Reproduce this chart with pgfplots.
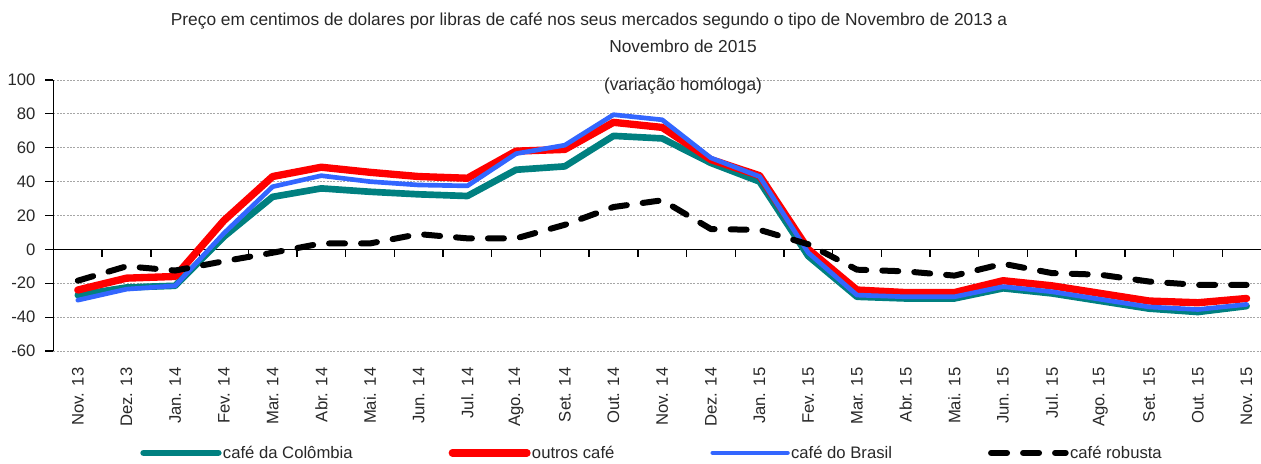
\documentclass[border=0pt]{standalone}
\usepackage{fontspec}
\setmainfont{Liberation Sans}
\usepackage{pgfplots}
\pgfplotsset{compat=1.18}
\definecolor{cteal}{RGB}{0,128,128}
\definecolor{cred}{RGB}{255,0,0}
\definecolor{cblue}{RGB}{51,102,255}
\definecolor{txt}{RGB}{40,40,40}
\begin{document}
\begin{tikzpicture}
\begin{axis}[
  at={(0,0)}, anchor=south west,
  scale only axis, width=905.7pt, height=203.25pt,
  xmin=-0.5, xmax=24.296, ymin=-60, ymax=100,
  ytick={-60,-40,...,100},
  axis y line*=left, axis x line*=bottom,
  x axis line style={draw=none},
  xtick={0,...,24},
  xtick style={draw=none},
  xticklabels={Nov. 13,Dez. 13,Jan. 14,Fev. 14,Mar. 14,Abr. 14,Mai. 14,Jun. 14,Jul. 14,Ago. 14,Set. 14,Out. 14,Nov. 14,Dez. 14,Jan. 15,Fev. 15,Mar. 15,Abr. 15,Mai. 15,Jun. 15,Jul. 15,Ago. 15,Set. 15,Out. 15,Nov. 15},
  xticklabel style={rotate=90, anchor=east, xshift=-9pt, font=\fontsize{12.5}{14}\selectfont, text=txt},
  yticklabel style={xshift=-4pt, font=\fontsize{12.5}{14}\selectfont, text=txt},
  /pgf/number format/assume math mode=true,
  ytick align=outside, major tick length=6pt,
  ytick style={black, line width=0.8pt},
  y axis line style={black, line width=0.8pt},
  ymajorgrids, grid style={gray!70, dash pattern=on 1.5pt off 1pt, line width=0.6pt},
  clip=false,
  legend columns=4,
  legend cell align=left,
  legend style={draw=none, fill=none, at={(0.0717,-0.376)}, anchor=west, inner sep=0pt,
    font=\fontsize{12.5}{14}\selectfont, text=txt,
    /tikz/every even column/.append style={column sep=71pt},
    nodes={inner xsep=1pt}},
  legend image code/.code={\draw[#1] (0pt,0pt) -- (56pt,0pt);},
]
\draw[black, line width=1pt] (axis cs:-0.5,0) -- (axis cs:24.296,0);
\pgfplotsinvokeforeach{0,...,23}{\draw[black, line width=1pt] (axis cs:#1+0.5,0) -- ++(0pt,-6pt);}
\addplot[cteal, line width=5pt, line join=round, line cap=round] coordinates {
(0,-27) (1,-22.5) (2,-21.5) (3,7.5) (4,31) (5,36) (6,34) (7,32.5) (8,31.5) (9,47) (10,49) (11,67) (12,65.5) (13,51) (14,40) (15,-4) (16,-28) (17,-29) (18,-29) (19,-23) (20,-26) (21,-30.5) (22,-35) (23,-37) (24,-33.5)};
\addlegendentry{café da Colômbia}
\addplot[cred, line width=5.5pt, line join=round, line cap=round] coordinates {
(0,-24) (1,-17) (2,-16) (3,17) (4,43) (5,48.5) (6,45.5) (7,43) (8,42) (9,58) (10,59) (11,75) (12,72) (13,53) (14,43.5) (15,0) (16,-24) (17,-25.5) (18,-25.5) (19,-18.5) (20,-21.5) (21,-26) (22,-30.5) (23,-31.5) (24,-29)};
\addlegendentry{outros café}
\addplot[cblue, line width=3.5pt, line join=round, line cap=round] coordinates {
(0,-30) (1,-23.5) (2,-21.5) (3,9.5) (4,37) (5,43.5) (6,40) (7,38) (8,37.5) (9,56.5) (10,61.5) (11,79.5) (12,76.5) (13,54) (14,43) (15,-2) (16,-27) (17,-28) (18,-28) (19,-22) (20,-25) (21,-29.5) (22,-34) (23,-35.5) (24,-32.5)};
\addlegendentry{café do Brasil}
\addplot[black, line width=4.5pt, line join=round, line cap=round, dash pattern=on 12pt off 12pt] coordinates {
(0,-18.5) (1,-10) (2,-12.5) (3,-7) (4,-2) (5,3.5) (6,3.5) (7,9) (8,6.5) (9,6.5) (10,14.5) (11,25) (12,29) (13,12) (14,11.5) (15,3) (16,-12) (17,-13) (18,-15.5) (19,-8.5) (20,-14) (21,-15) (22,-19) (23,-21) (24,-21)};
\addlegendentry{café robusta}
\end{axis}
\node[font=\fontsize{13}{15}\selectfont, text=txt, inner sep=0pt] at (401.7pt,247.5pt) {Preço em centimos de dolares por libras de café nos seus mercados segundo o tipo de Novembro de 2013 a};
\node[font=\fontsize{13}{15}\selectfont, text=txt, inner sep=0pt] at (472.2pt,228.75pt) {Novembro de 2015};
\node[font=\fontsize{13}{15}\selectfont, text=txt, inner sep=0pt] at (472.2pt,198.5pt) {(variação homóloga)};
\pgfresetboundingbox
\path (-40.09pt,-84.75pt) rectangle (905.7pt,263.25pt);
\end{tikzpicture}
\end{document}
